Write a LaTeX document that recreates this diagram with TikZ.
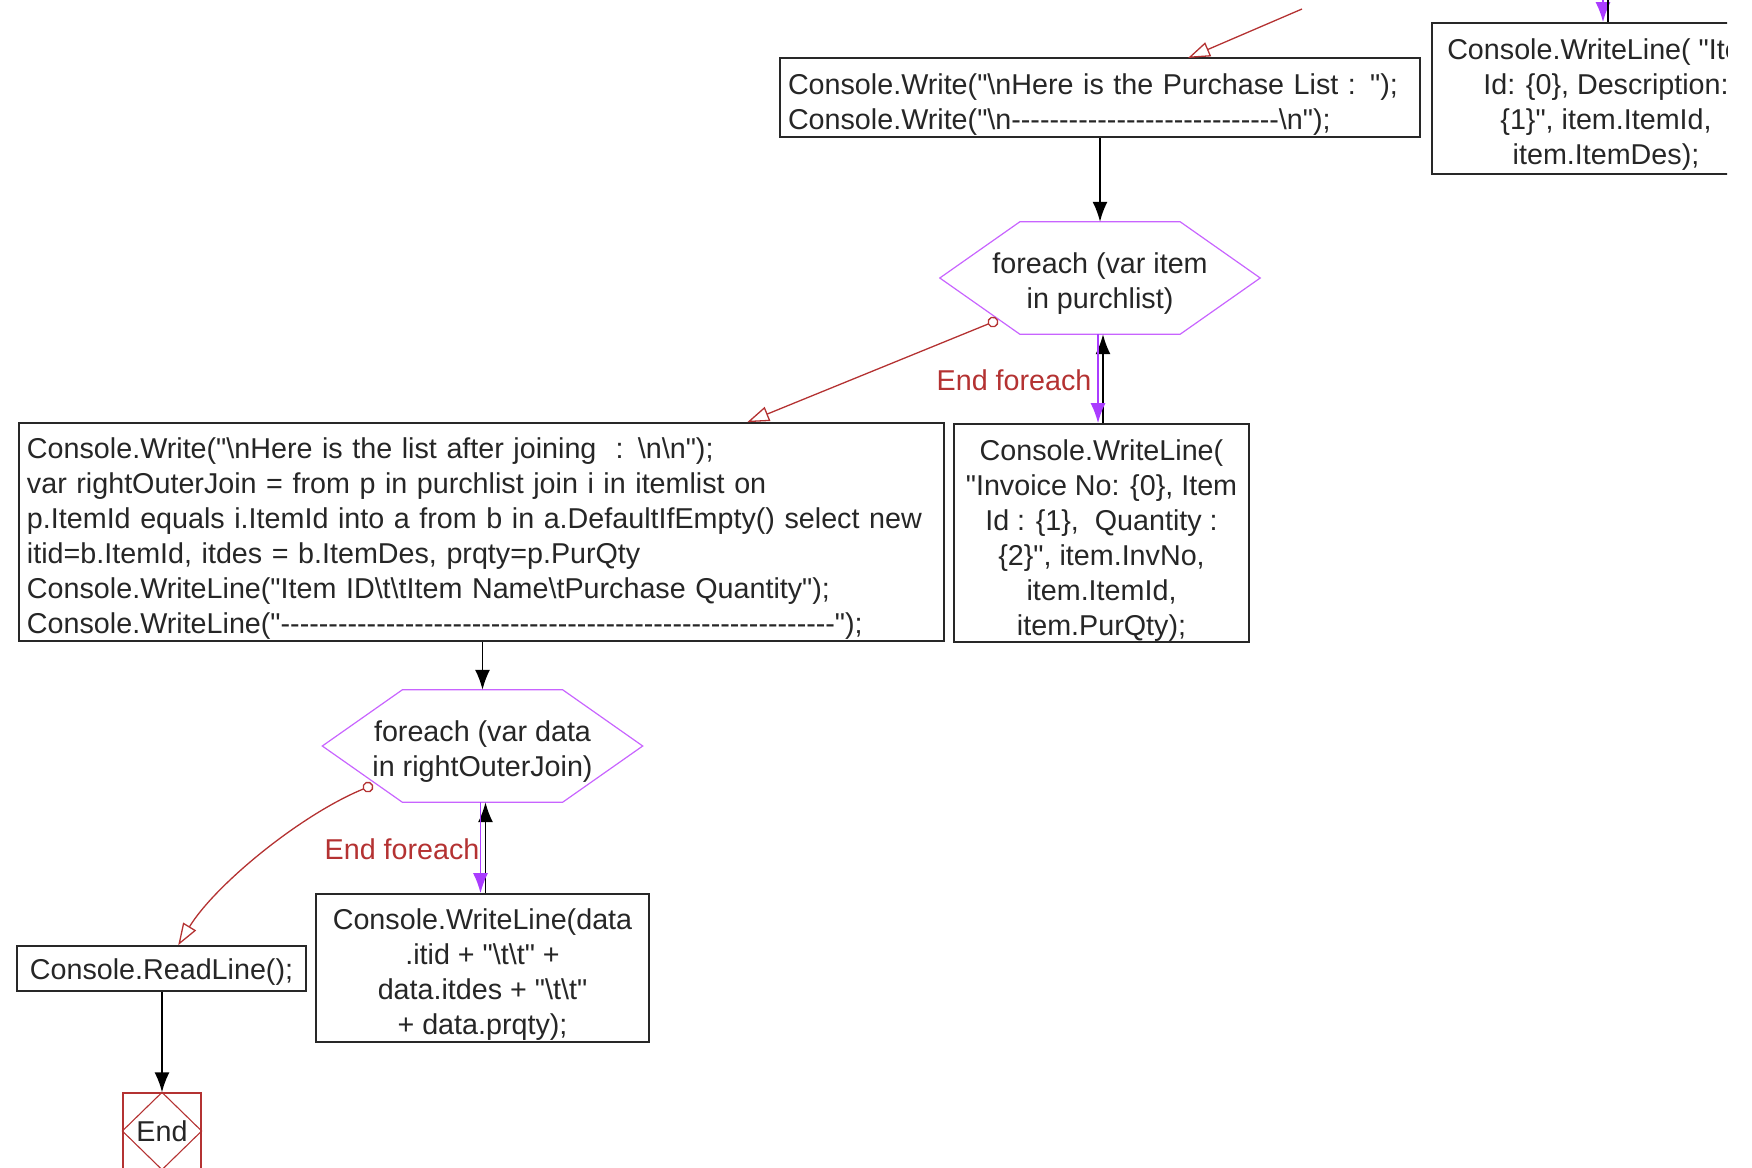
\documentclass[tikz,border=0pt]{standalone}
\usepackage{fontspec}
\setmainfont{Liberation Sans}[Ligatures=TeXOff]
\usetikzlibrary{arrows.meta,calc}
\definecolor{boxline}{RGB}{40,40,40}
\definecolor{hexpurple}{RGB}{200,100,255}
\definecolor{arrpurple}{RGB}{170,60,255}
\definecolor{loopred}{RGB}{180,50,50}
\newcommand\bs{\textbackslash}
\newcommand\fl[1]{\rule{0pt}{#1pt}}
\begin{document}
\begin{tikzpicture}[x=1pt,y=-1pt,
  every node/.style={font=\fontsize{28.7}{35}\selectfont, text=black!85},
  codebox/.style={draw=boxline, line width=1.6pt, inner sep=0pt},
  hexnode/.style={minimum width=320pt, minimum height=112pt, inner sep=0pt, align=center},
  hexline/.style={draw=hexpurple, line width=1.2pt},
  flow/.style={draw=black, line width=1.8pt, -{Latex[length=20pt,width=15pt]}},
  back/.style={draw=arrpurple, line width=1.8pt, -{Latex[length=20pt,width=15pt]}},
  endlbl/.style={text=loopred},
  exitline/.style={draw=loopred, line width=1.3pt,
     {Circle[open,fill=white,length=11pt,width=11pt]}-{Triangle[open,fill=white,length=22pt,width=15pt]}},
]
\useasboundingbox (0,0) rectangle (1752,1167);
\clip (0,0) rectangle (1752,1167);

% top box
\node[codebox, minimum width=640pt, minimum height=79pt, text width=624pt, align=left] (tb) at (1100,97.5)
  {\fl{34}Console.Write("\bs nHere is the Purchase List : ");\\Console.Write("\bs n----------------------------\bs n");};

% top-right box (cut off at the picture's edge)
\begin{scope}
\clip (0,0) rectangle (1727,1167);
\node[codebox, minimum width=348pt, minimum height=151pt, align=center] (tr) at (1606,98.5)
  {\fl{32}Console.WriteLine( "Item\\Id: \{0\}, Description:\\\{1\}", item.ItemId,\\item.ItemDes);};
\end{scope}
\coordinate (trp) at (1603,0);
\coordinate (trk) at (1608,0);
\draw[back] (trp) -- (trp |- tr.north);
\draw[black, line width=1.8pt] (trk) -- (trk |- tr.north);

% red connector into top box
\coordinate (rin) at (1302,9);
\coordinate (rtip) at (1188,58);
\draw[draw=loopred, line width=1.3pt, -{Triangle[open,fill=white,length=22pt,width=15pt]}] (rin) -- (rtip);

% hexagon 1
\node[hexnode] (h1) at (1100,278) {\fl{31}foreach (var item\\in purchlist)};
\draw[hexline] (h1.west) -- ([xshift=80pt]h1.north west) -- ([xshift=-80pt]h1.north east) -- (h1.east)
  -- ([xshift=-80pt]h1.south east) -- ([xshift=80pt]h1.south west) -- cycle;
\draw[flow] (tb.south -| h1.north) -- (h1.north);

% big box
\node[codebox, minimum width=925pt, minimum height=218pt, text width=909pt, align=left] (bb) at (481.5,532)
  {\fl{34}Console.Write("\bs nHere is the list after joining\ \ : \bs n\bs n");\\
   var rightOuterJoin = from p in purchlist join i in itemlist on\\
   p.ItemId equals i.ItemId into a from b in a.DefaultIfEmpty() select new\\
   itid=b.ItemId, itdes = b.ItemDes, prqty=p.PurQty\\
   Console.WriteLine("Item ID\bs t\bs tItem Name\bs tPurchase Quantity");\\
   Console.WriteLine("----------------------------------------------------------");};

% invoice box
\node[codebox, minimum width=295pt, minimum height=218pt, align=center] (ib) at (1101.5,533)
  {\fl{35}Console.WriteLine(\\"Invoice No: \{0\}, Item\\Id : \{1\},\ \ Quantity :\\\{2\}", item.InvNo,\\item.ItemId,\\item.PurQty);};

% loop of hexagon 1
\draw[flow] ($(ib.north -| h1.south)+(3,0)$) -- ($(h1.south)+(3,0)$);
\draw[back] ($(h1.south)+(-2,0)$) -- ($(ib.north -| h1.south)+(-2,0)$);
\node[endlbl, anchor=east] (e1) at (1095,380) {End foreach};

% exit of hexagon 1
\coordinate (c1) at (998,320);
\coordinate (a1) at ($(bb.north west)+(729,0)$);
\draw[exitline] (c1) -- (a1);

% hexagon 2
\node[hexnode] (h2) at (482.5,746) {\fl{31}foreach (var data\\in rightOuterJoin)};
\draw[hexline] (h2.west) -- ([xshift=80pt]h2.north west) -- ([xshift=-80pt]h2.north east) -- (h2.east)
  -- ([xshift=-80pt]h2.south east) -- ([xshift=80pt]h2.south west) -- cycle;
\draw[flow] (bb.south -| h2.north) -- (h2.north);

% data box
\node[codebox, minimum width=333pt, minimum height=148pt, align=center] (db) at (482.5,968)
  {\fl{33}Console.WriteLine(data\\.itid + "\bs t\bs t" +\\data.itdes + "\bs t\bs t"\\+ data.prqty);};

% loop of hexagon 2
\draw[flow] ($(db.north -| h2.south)+(3,0)$) -- ($(h2.south)+(3,0)$);
\draw[back] ($(h2.south)+(-2,0)$) -- ($(db.north -| h2.south)+(-2,0)$);
\node[endlbl, anchor=east] (e2) at (483,849) {End foreach};

% ReadLine box
\node[codebox, minimum width=289pt, minimum height=45pt, align=center] (rb) at (161.5,968.5) {\fl{28}Console.ReadLine();};

% exit of hexagon 2
\coordinate (c2) at (373,785);
\coordinate (a2) at ($(rb.north west)+(162,0)$);
\draw[exitline] (c2) .. controls (300,815) and (215,885) .. (a2);

% End
\node[draw=loopred, line width=1.3pt, minimum width=78pt, minimum height=76pt, inner sep=0pt] (en) at (162,1131) {End};
\draw[draw=loopred, line width=1.1pt] (en.north) -- (en.east) -- (en.south) -- (en.west) -- cycle;
\draw[flow] (rb.south -| en.north) -- (en.north);
\end{tikzpicture}
\end{document}
